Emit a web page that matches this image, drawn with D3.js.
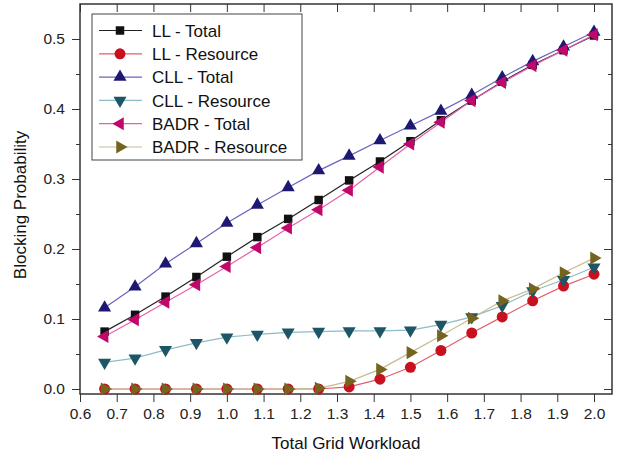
<!DOCTYPE html>
<html lang="en">
<head>
<meta charset="UTF-8">
<title>Blocking Probability vs Total Grid Workload</title>
<script src="https://d3js.org/d3.v7.min.js"></script>
<style>
    body { margin: 0; background: #fff; }
    svg { font-family: "Liberation Sans", Arial, sans-serif; }
    .axis path, .axis line { stroke: #333; }
    .axis text { font-size: 15.5px; fill: #222; }
    .legend text { font-size: 17px; fill: #111; }
</style>
</head>
<body>
<script>
    // x positions (total grid workload)
    const workload = [0.667, 0.75, 0.833, 0.917, 1.0, 1.083, 1.167, 1.25, 1.333,
                      1.417, 1.5, 1.583, 1.667, 1.75, 1.833, 1.917, 2.0];

    // blocking probability for each series
    const llTotal = [0.082, 0.106, 0.132, 0.160, 0.189, 0.217, 0.243, 0.270, 0.298,
                     0.325, 0.354, 0.384, 0.412, 0.439, 0.463, 0.484, 0.505];
    const llResource = [0, 0, 0, 0, 0, 0, 0, 0, 0.003,
                        0.014, 0.031, 0.055, 0.080, 0.103, 0.126, 0.147, 0.164];
    const cllTotal = [0.116, 0.146, 0.179, 0.208, 0.237, 0.263, 0.288, 0.312, 0.333,
                      0.355, 0.376, 0.397, 0.420, 0.445, 0.468, 0.489, 0.510];
    const cllResource = [0.038, 0.044, 0.056, 0.066, 0.074, 0.078, 0.081, 0.082, 0.083,
                         0.083, 0.084, 0.092, 0.103, 0.119, 0.140, 0.156, 0.174];
    const badrTotal = [0.075, 0.099, 0.124, 0.149, 0.175, 0.202, 0.230, 0.256, 0.284,
                       0.317, 0.350, 0.381, 0.412, 0.438, 0.462, 0.484, 0.506];
    const badrResource = [0, 0, 0, 0, 0, 0, 0, 0.001, 0.011,
                          0.028, 0.052, 0.076, 0.101, 0.126, 0.143, 0.166, 0.187];

    const xTicks = d3.range(6, 21).map(d => d / 10);
    const yTicks = [0, 0.1, 0.2, 0.3, 0.4, 0.5];
    const yMinor = [0.05, 0.15, 0.25, 0.35, 0.45];

    const width = 625;
    const height = 458;
    const plot = { left: 80, right: 612, top: 4, bottom: 394 };

    // series styling: marker type, rotation, marker colour, line colour
    const series = [
        { name: "LL - Total", values: llTotal, symbol: d3.symbolSquare, rot: 0, size: 72, fill: "#111111", line: "#222222" },
        { name: "LL - Resource", values: llResource, symbol: d3.symbolCircle, rot: 0, size: 95, fill: "#c8101e", line: "#e0606a" },
        { name: "CLL - Total", values: cllTotal, symbol: d3.symbolTriangle, rot: 0, size: 74, fill: "#1e1870", line: "#6a64c0" },
        { name: "CLL - Resource", values: cllResource, symbol: d3.symbolTriangle, rot: 180, size: 74, fill: "#1d5666", line: "#8cbcc4" },
        { name: "BADR - Total", values: badrTotal, symbol: d3.symbolTriangle, rot: -90, size: 74, fill: "#c0086c", line: "#e860a8" },
        { name: "BADR - Resource", values: badrResource, symbol: d3.symbolTriangle, rot: 90, size: 74, fill: "#746420", line: "#c9bb90" }
    ];

    const x = d3.scaleLinear()
        .domain([0.6, 2.0])
        .range([80, 594]);

    const y = d3.scaleLinear()
        .domain([0, 0.5])
        .range([389, 39]);

    const svg = d3.select("body").append("svg")
        .attr("width", width)
        .attr("height", height);

    // bottom axis (outward ticks, labelled)
    svg.append("g")
        .attr("class", "axis")
        .attr("transform", `translate(0,${plot.bottom})`)
        .call(d3.axisBottom(x).tickValues(xTicks).tickFormat(d3.format(".1f")).tickSize(8).tickPadding(6))
        .call(g => g.select(".domain").remove());

    // top axis (inward ticks)
    svg.append("g")
        .attr("class", "axis")
        .attr("transform", `translate(0,${plot.top})`)
        .call(d3.axisTop(x).tickValues(xTicks).tickSize(-8).tickFormat(""))
        .call(g => g.select(".domain").remove());

    // left axis
    svg.append("g")
        .attr("class", "axis")
        .attr("transform", `translate(${plot.left},0)`)
        .call(d3.axisLeft(y).tickValues(yTicks).tickFormat(d3.format(".1f")).tickSize(8).tickPadding(7))
        .call(g => g.select(".domain").remove());

    svg.append("g")
        .attr("class", "axis")
        .attr("transform", `translate(${plot.left},0)`)
        .call(d3.axisLeft(y).tickValues(yMinor).tickFormat("").tickSize(4))
        .call(g => g.select(".domain").remove());

    // right axis (inward ticks)
    svg.append("g")
        .attr("class", "axis")
        .attr("transform", `translate(${plot.right},0)`)
        .call(d3.axisRight(y).tickValues(yTicks).tickFormat("").tickSize(-8))
        .call(g => g.select(".domain").remove());

    svg.append("g")
        .attr("class", "axis")
        .attr("transform", `translate(${plot.right},0)`)
        .call(d3.axisRight(y).tickValues(yMinor).tickFormat("").tickSize(-4))
        .call(g => g.select(".domain").remove());

    // frame
    svg.append("rect")
        .attr("x", plot.left)
        .attr("y", plot.top)
        .attr("width", plot.right - plot.left)
        .attr("height", plot.bottom - plot.top)
        .attr("fill", "none")
        .attr("stroke", "#333")
        .attr("stroke-width", 1.5);

    const line = d3.line()
        .x((d, i) => x(workload[i]))
        .y(d => y(d));

    // lines first, then markers on top
    for (const s of series) {
        svg.append("path")
            .datum(s.values)
            .attr("fill", "none")
            .attr("stroke", s.line)
            .attr("stroke-width", 1.2)
            .attr("d", line);
    }

    for (const s of series) {
        const sym = d3.symbol().type(s.symbol).size(s.size);
        svg.append("g")
            .selectAll("path")
            .data(s.values)
            .join("path")
            .attr("transform", (d, i) => `translate(${x(workload[i])},${y(d)}) rotate(${s.rot})`)
            .attr("d", sym)
            .attr("fill", s.fill);
    }

    // legend
    const legend = svg.append("g").attr("class", "legend");

    legend.append("rect")
        .attr("x", 92)
        .attr("y", 14)
        .attr("width", 210)
        .attr("height", 146)
        .attr("fill", "#fff")
        .attr("stroke", "#444")
        .attr("stroke-width", 1);

    const rows = legend.selectAll("g.row")
        .data(series)
        .join("g")
        .attr("class", "row")
        .attr("transform", (d, i) => `translate(0,${30.5 + i * 23.3})`);

    rows.append("line")
        .attr("x1", 99)
        .attr("x2", 142)
        .attr("stroke", d => d.line)
        .attr("stroke-width", 1.2);

    rows.append("path")
        .attr("transform", d => `translate(120,0) rotate(${d.rot})`)
        .attr("d", d => d3.symbol().type(d.symbol).size(d.size)())
        .attr("fill", d => d.fill);

    rows.append("text")
        .attr("x", 152)
        .attr("dy", "0.36em")
        .text(d => d.name);

    // axis titles
    svg.append("text")
        .attr("text-anchor", "middle")
        .attr("x", (plot.left + plot.right) / 2)
        .attr("y", 449)
        .style("font-size", "17px")
        .attr("fill", "#111")
        .text("Total Grid Workload");

    svg.append("text")
        .attr("text-anchor", "middle")
        .attr("transform", `translate(26,${(plot.top + plot.bottom) / 2 + 6}) rotate(-90)`)
        .style("font-size", "17px")
        .attr("fill", "#111")
        .text("Blocking Probability");
</script>
</body>
</html>
